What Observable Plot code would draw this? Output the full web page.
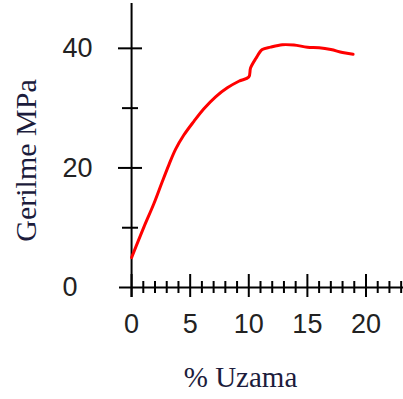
<!DOCTYPE html>
<html>
<head>
<meta charset="utf-8">
<script src="https://cdn.jsdelivr.net/npm/d3@7"></script>
<script src="https://cdn.jsdelivr.net/npm/@observablehq/plot@0.6"></script>
<style>
  html, body { margin: 0; padding: 0; background: #fff; }
  #chart svg { display: block; }
</style>
</head>
<body>
<div id="chart"></div>
<script>
// Elongation (%) and stress (MPa)
const strain = [0, 1.05, 1.9, 2.6, 3.2, 3.75, 4.46, 5.32, 6.17, 7.17, 8.17, 9.15, 10.0, 10.15, 10.6, 11.15, 11.86, 12.86, 13.85, 15.0, 16.0, 17.0, 18.0, 18.9];
const stress = [5.0, 10.1, 14.0, 17.6, 20.6, 23.1, 25.5, 27.8, 29.9, 31.9, 33.4, 34.5, 35.2, 36.7, 38.3, 39.8, 40.2, 40.6, 40.55, 40.2, 40.1, 39.8, 39.3, 39.0];

const xMajorTicks = [0, 5, 10, 15, 20];
const xMinorTicks = [1, 2, 3, 4, 6, 7, 8, 9, 11, 12, 13, 14, 16, 17, 18, 19, 21, 22, 23];
const yMajorTicks = [0, 20, 40];
const yMinorTicks = [10, 30];
const xTitle = "% Uzama";
const yTitle = "Gerilme MPa";

const data = strain.map((x, i) => ({x, y: stress[i]}));

const chart = Plot.plot({
  width: 403,
  height: 399,
  marginLeft: 119,
  marginRight: 0,
  marginTop: 3,
  marginBottom: 102,
  x: {domain: [-1.03, 23.2], label: null},
  y: {domain: [-1.67, 47.5], label: null},
  style: {background: "#fff", color: "#222"},
  marks: [
    // axis lines
    Plot.ruleY([0], {stroke: "#000", strokeWidth: 2}),
    Plot.ruleX([0], {stroke: "#000", strokeWidth: 2}),
    // x ticks
    Plot.axisX({ticks: xMajorTicks, tickSize: 23, dy: -23, text: null, label: null, stroke: "#000", strokeWidth: 2, strokeOpacity: 1}),
    Plot.axisX({ticks: xMinorTicks, tickSize: 12, dy: -16, text: null, label: null, stroke: "#000", strokeWidth: 2, strokeOpacity: 1}),
    Plot.axisX({ticks: xMajorTicks, tickSize: 0, tickPadding: 16, label: null, fontSize: 27, fontFamily: "Liberation Sans, Arial, sans-serif", fill: "#222"}),
    // y ticks
    Plot.axisY({ticks: [20, 40], tickSize: 24, dx: 23, text: null, label: null, stroke: "#000", strokeWidth: 2, strokeOpacity: 1}),
    Plot.axisY({ticks: yMinorTicks, tickSize: 16, dx: 19, text: null, label: null, stroke: "#000", strokeWidth: 2, strokeOpacity: 1}),
    Plot.axisY({ticks: yMajorTicks, tickSize: 0, tickPadding: 57, textAnchor: "start", label: null, fontSize: 27, fontFamily: "Liberation Sans, Arial, sans-serif", fill: "#222"}),
    // curve
    Plot.line(data, {x: "x", y: "y", stroke: "#ff0000", strokeWidth: 3, curve: "catmull-rom"}),
    // titles
    Plot.text([yTitle], {frameAnchor: "left", dx: -93, dy: 10, rotate: -90, lineAnchor: "middle", textAnchor: "middle", fontSize: 30, fontFamily: "Liberation Serif, Times New Roman, serif", fill: "#1c1c3c"}),
    Plot.text([xTitle], {frameAnchor: "bottom", dx: -21, dy: 80, lineAnchor: "middle", textAnchor: "middle", fontSize: 29, fontFamily: "Liberation Serif, Times New Roman, serif", fill: "#1c1c3c"})
  ]
});
document.getElementById("chart").appendChild(chart);
</script>
</body>
</html>
